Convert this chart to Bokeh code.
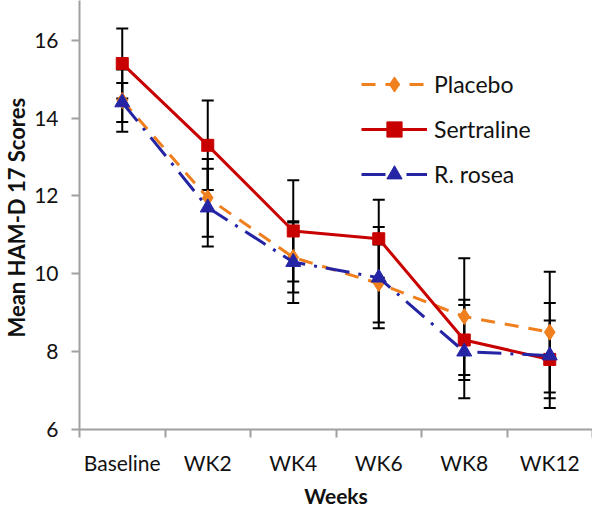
from bokeh.plotting import figure
from bokeh.models import (ColumnDataSource, Range1d, FixedTicker, Legend, LegendItem,
                          Whisker, TeeHead)
from bokeh.embed import file_html
from bokeh.resources import INLINE

weeks = ["Baseline", "WK2", "WK4", "WK6", "WK8", "WK12"]

placebo = [14.45, 11.95, 10.42, 9.75, 8.9, 8.5]
placebo_err = [0.8, 1.0, 0.9, 1.0, 1.5, 1.55]

sertraline = [15.4, 13.3, 11.1, 10.9, 8.3, 7.8]
sertraline_err = [0.9, 1.15, 1.3, 1.0, 1.03, 1.0]

rosea = [14.4, 11.7, 10.3, 9.9, 8.0, 7.9]
rosea_err = [0.5, 1.0, 1.05, 1.3, 1.2, 1.35]

y_ticks = [6, 8, 10, 12, 14, 16]

FONT = "Lato"
AX = "#a0a0a0"

xs = [i + 0.5 for i in range(len(weeks))]

p = figure(width=592, height=510, x_range=Range1d(0, len(weeks)),
           y_range=Range1d(6, 17.02), output_backend="svg", toolbar_location=None,
           min_border_left=72, min_border_right=0, min_border_top=0,
           min_border_bottom=79)
p.outline_line_color = None
p.xgrid.visible = False
p.ygrid.visible = False
p.background_fill_color = "white"
p.border_fill_color = "white"

# x axis
xa = p.xaxis[0]
xa.ticker = FixedTicker(ticks=xs, minor_ticks=list(range(len(weeks) + 1)))
xa.major_label_overrides = {x: w for x, w in zip(xs, weeks)}
xa.major_tick_out = 0
xa.major_tick_in = 0
xa.major_tick_line_color = None
xa.minor_tick_out = 8
xa.minor_tick_in = 0
xa.minor_tick_line_color = AX
xa.minor_tick_line_width = 2
xa.axis_line_color = AX
xa.axis_line_width = 2
xa.major_label_text_font = FONT
xa.major_label_text_font_size = "21px"
xa.major_label_text_color = "#111111"
xa.major_label_standoff = 12
xa.axis_label = "Weeks"
xa.axis_label_text_font = FONT
xa.axis_label_text_font_style = "bold"
xa.axis_label_text_font_size = "21px"
xa.axis_label_text_color = "#111111"
xa.axis_label_standoff = 5

# y axis
ya = p.yaxis[0]
ya.ticker = FixedTicker(ticks=y_ticks, minor_ticks=[])
ya.major_tick_out = 8
ya.major_tick_in = 0
ya.major_tick_line_color = AX
ya.major_tick_line_width = 2
ya.axis_line_color = AX
ya.axis_line_width = 2
ya.major_label_text_font = FONT
ya.major_label_text_font_size = "21px"
ya.major_label_text_color = "#111111"
ya.major_label_standoff = 13
ya.axis_label = "Mean HAM-D 17  Scores"
ya.axis_label_text_font = FONT
ya.axis_label_text_font_style = "bold"
ya.axis_label_text_font_size = "22px"
ya.axis_label_text_color = "#111111"
ya.axis_label_standoff = 1

series = [
    ("Placebo", placebo, placebo_err, "#f07f1e", "14 10", "diamond", 16),
    ("Sertraline", sertraline, sertraline_err, "#c80000", "solid", "square", 12),
    ("R. rosea", rosea, rosea_err, "#2424a4", "24 9 3 9", "triangle", 15),
]

# error bars (under the lines)
for name, vals, errs, color, dash, marker, size in series:
    src = ColumnDataSource(dict(
        x=xs,
        upper=[v + e for v, e in zip(vals, errs)],
        lower=[v - e for v, e in zip(vals, errs)],
    ))
    w = Whisker(source=src, base="x", upper="upper", lower="lower",
                dimension="height", line_color="black", line_width=2,
                upper_head=TeeHead(size=12, line_color="black", line_width=2),
                lower_head=TeeHead(size=12, line_color="black", line_width=2))
    p.add_layout(w)

items = []
for name, vals, errs, color, dash, marker, size in series:
    src = ColumnDataSource(dict(x=xs, y=vals))
    ln = p.line("x", "y", source=src, line_color=color, line_width=3, line_dash=dash)
    mk = p.scatter("x", "y", source=src, marker=marker, size=size,
                   fill_color=color, line_color=color)
    items.append(LegendItem(label=name, renderers=[ln, mk]))

legend = Legend(items=items, location=(282, 236), glyph_width=66, glyph_height=38,
                label_height=38, spacing=7, padding=0, margin=0,
                border_line_color=None, background_fill_alpha=0,
                label_text_font=FONT, label_text_font_size="23px",
                label_text_color="#111111", label_standoff=7)
p.add_layout(legend)

open("out.html", "w").write(file_html(p, INLINE))
